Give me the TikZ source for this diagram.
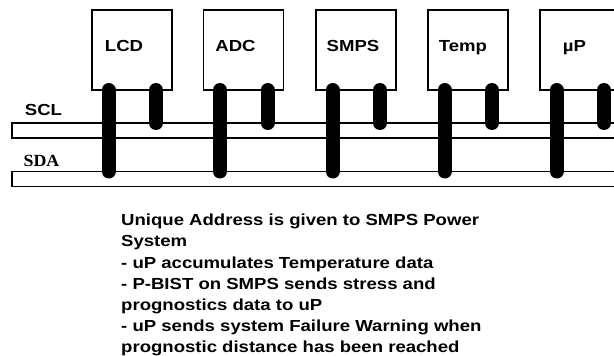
\documentclass[tikz,border=0pt]{standalone}
\usepackage{fontspec}
\newfontfamily\arialbf{Liberation Sans Bold}[FakeStretch=1.16]
\newfontfamily\timesbf{Liberation Serif Bold}[FakeStretch=1.05]
\usetikzlibrary{positioning,calc}
\tikzset{
  chip/.style={draw=black, line width=1.3pt, fill=white, minimum width=80pt, minimum height=80pt, inner sep=0pt, outer sep=0pt},
  chiplabel/.style={font=\arialbf\fontsize{16}{19}\selectfont, inner sep=0pt, anchor=base},
  bus/.style={draw=black, line width=1.3pt, minimum width=608pt, minimum height=15pt, inner sep=0pt, outer sep=0pt},
  buslabel/.style={font=\arialbf\fontsize{16}{19}\selectfont, inner sep=0pt, anchor=base},
  pin/.style={draw=black, line width=14pt, line cap=round},
  note/.style={font=\arialbf\fontsize{16}{21.2}\selectfont, align=left, inner sep=0pt, anchor=north west}
}

\begin{document}
\begin{tikzpicture}[x=1pt,y=-1pt]
\useasboundingbox (0,0) rectangle (614,356);
\clip (0,0) rectangle (614,356);
% I2C bus lines
\node[bus] (scl) at (316,130.5) {};
\node[bus] (sda) at (316,179) {};
\node[buslabel] (scllabel) at (43.5,115) {SCL};
\node[buslabel, font=\timesbf\fontsize{17}{19}\selectfont] (sdalabel) at (41.5,166) {SDA};
% devices on the bus
\node[chip] (lcd) at (132,50) {};
\node[chip] (adc) at (243.5,50) {};
\node[chip] (smps) at (356,50) {};
\node[chip] (temp) at (468,50) {};
\node[chip] (up) at (580,50) {};
\node[chiplabel] (lcdlabel) at (124,51) {LCD};
\node[chiplabel] (adclabel) at (235.5,51) {ADC};
\node[chiplabel] (smpslabel) at (353,51) {SMPS};
\node[chiplabel] (templabel) at (463,51) {Temp};
\node[chiplabel] (uplabel) at (574.5,51) {µP};
% pins: long one to SDA, short one to SCL
\foreach \c in {lcd,adc,smps,temp,up}{
  \draw[pin] ([xshift=16.5pt]\c.south west) -- ([xshift=16.5pt]\c.south west |- sda.north);
  \draw[pin] ([xshift=64pt]\c.south west) -- ([xshift=64pt]\c.south west |- scl.north);
}
\node[note] (note) at (121,214) {Unique Address is given to SMPS Power\\System\\- uP accumulates Temperature data\\- P-BIST on SMPS sends stress and\\prognostics data to uP\\- uP sends system Failure Warning when\\prognostic distance has been reached};
\end{tikzpicture}
\end{document}
